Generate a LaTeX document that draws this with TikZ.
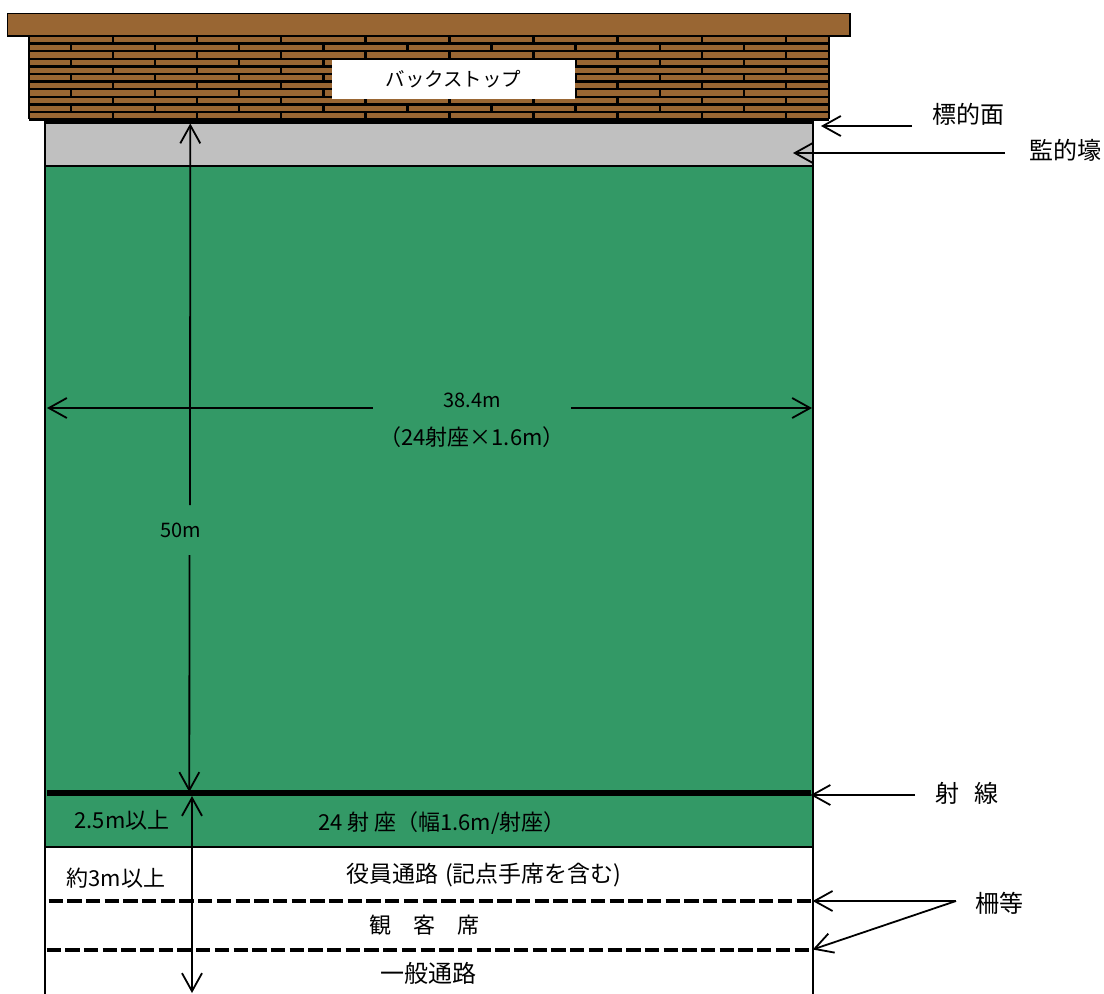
\documentclass[tikz,border=0pt]{standalone}
\usepackage{fontspec}
\setmainfont{Noto Sans CJK JP}
\usetikzlibrary{arrows.meta}
\definecolor{brick}{HTML}{996633}
\definecolor{turf}{HTML}{339966}
\definecolor{apron}{HTML}{C0C0C0}
\tikzset{
  x=1pt,y=-1pt,
  outline/.style={draw=black,line width=1.8pt},
  brickline/.style={draw=black,line width=2.4pt},
  barb/.tip={Straight Barb[length=18pt,width=20pt,line width=1.8pt]},
  dimline/.style={draw=black,line width=1.8pt,{barb}-{barb}},
  dimstart/.style={draw=black,line width=1.8pt,{barb}-},
  dimend/.style={draw=black,line width=1.8pt,-{barb}},
  fence/.style={draw=black,line width=4.4pt,dash pattern=on 14.3pt off 4.4pt},
  lab/.style={inner sep=0pt,text=black},
  fsa/.style={lab,font=\fontsize{20}{22}\selectfont},
  fsb/.style={lab,font=\fontsize{22}{24}\selectfont},
  fsc/.style={lab,font=\fontsize{23}{25}\selectfont},
  fsd/.style={lab,font=\fontsize{24}{26}\selectfont},
}
\begin{document}
\begin{tikzpicture}
\useasboundingbox (0,0) rectangle (1104,994);
\fill[white] (0,0) rectangle (1104,994);
% wall of bricks
\fill[brick] (29,36) rectangle (829,119);
\foreach \r in {0,...,11}{\draw[brickline] (29,36+\r*7.6) -- (829,36+\r*7.6);}
\draw[brickline] (29,36) -- (29,119) (829,36) -- (829,119);
\foreach \r in {0,2,...,10}{
  \foreach \c in {0,...,8}{\draw[brickline] (113+\c*84.1,36+\r*7.6) -- ++(0,7.6);}
}
\foreach \r in {1,3,...,9}{
  \foreach \c in {0,...,8}{\draw[brickline] (71+\c*84.1,36+\r*7.6) -- ++(0,7.6);}
}
% roof
\draw[outline,fill=brick] (7.5,13.5) rectangle (850,36);
% field
\draw[outline,fill=apron] (45,122) rectangle (813,166);
\draw[outline,fill=turf] (45,166) rectangle (813,847);
\draw[outline] (45,847) -- (45,994) (813,847) -- (813,994);
% target line and shooting line
\draw[black,line width=5pt] (45,121) -- (813,121);
\draw[black,line width=6pt] (47,793) -- (811,793);
\draw[fence] (48.5,900.7) -- (811,900.7);
\draw[fence] (46.5,950) -- (811,950);
% backstop label
\node[fill=white,minimum width=243pt,minimum height=39pt,inner sep=0pt,font=\fontsize{19.5}{22}\selectfont] (bs) at (453.5,79.5) {バックストップ};
% labels
\node[fsd] (tgt) at (968,114) {標的面};
\node[fsd] (kan) at (1065,150) {監的壕};
\node[fsd] (sha) at (967,793) {射\hspace{0.6em}線};
\node[fsd] (sak) at (999,903) {柵等};
\node[fsa] (w) at (472,400) {38.4m};
\node[fsb] (w2) at (472,437) {（24射座×1.6m）};
\node[fsa] (fifty) at (181,530) {50m};
\node[fsb] (a25) at (122,820) {2.5m以上};
\node[fsb] (a24) at (442,823) {24 射 座（幅1.6m/射座）};
\node[fsb] (a3) at (116,878) {約3m以上};
\node[fsc] (yak) at (484,875) {役員通路\hspace{7pt}(記点手席を含む)\hspace{7pt}};
\node[fsb] (kyk) at (424,925) {観\hspace{1em}客\hspace{1em}席};
\node[fsd] (gen) at (428,973) {一般通路};
% dimension arrows
\coordinate (vt) at (190.3,123.5);
\coordinate (vg1) at (190,505);
\coordinate (vg2) at (189.5,555);
\coordinate (vb) at (189.3,792);
\coordinate (st) at (192,796);
\coordinate (sb) at (192,993);
\coordinate (hl) at (47,408);
\coordinate (hg1) at (373,408);
\coordinate (hg2) at (571,408);
\coordinate (hr) at (812,408);
\draw[dimstart] (vt) -- (vg1);
\draw[dimend] (vg2) -- (vb);
\draw[dimline] (st) -- (sb);
\draw[dimstart] (hl) -- (hg1);
\draw[dimend] (hg2) -- (hr);
% leader arrows
\coordinate (t1) at (821,126);
\coordinate (t1e) at (912,126);
\coordinate (t2) at (793,153);
\coordinate (t2e) at (1005,153);
\coordinate (t3) at (810.5,795);
\coordinate (t3e) at (915,795);
\coordinate (f1) at (812.7,901);
\coordinate (f2) at (812.7,949.5);
\coordinate (fa) at (956,901);
\draw[dimend] (t1e) -- (t1);
\draw[dimend] (t2e) -- (t2);
\draw[dimend] (t3e) -- (t3);
\draw[dimend] (fa) -- (f1);
\draw[dimend] (fa) -- (f2);
\end{tikzpicture}
\end{document}
